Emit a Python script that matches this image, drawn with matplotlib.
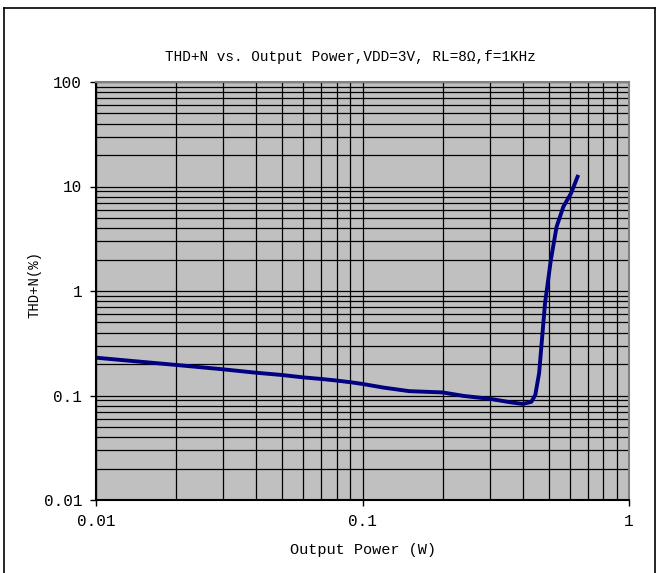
import matplotlib
matplotlib.use("Agg")
import matplotlib.pyplot as plt
from matplotlib.lines import Line2D
from matplotlib.ticker import LogLocator, FixedLocator, FixedFormatter, NullFormatter

# Data
power_w = [0.01, 0.02, 0.03, 0.04, 0.05, 0.06, 0.07, 0.08, 0.09, 0.1, 0.12, 0.15,
           0.2, 0.24, 0.3, 0.36, 0.4, 0.43, 0.445, 0.46, 0.484, 0.509, 0.535,
           0.567, 0.606, 0.645]
thdn_pct = [0.23, 0.196, 0.178, 0.165, 0.157, 0.149, 0.144, 0.139, 0.134, 0.129,
            0.119, 0.110, 0.107, 0.099, 0.093, 0.086, 0.083, 0.087, 0.101, 0.164,
            0.76, 1.98, 4.12, 6.4, 8.6, 12.9]
x_ticks = [0.01, 0.1, 1]
x_tick_labels = ["0.01", "0.1", "1"]
y_ticks = [0.01, 0.1, 1, 10, 100]
y_tick_labels = ["0.01", "0.1", "1", "10", "100"]
title = "THD+N vs. Output Power,VDD=3V, RL=8Ω,f=1KHz"
x_label = "Output Power (W)"
y_label = "THD+N(%)"

plt.rcParams['font.family'] = ['Liberation Mono', 'DejaVu Sans Mono', 'DejaVu Sans']

W, H = 657, 573
fig = plt.figure(figsize=(W / 100, H / 100), dpi=100)
fig.patch.set_facecolor("white")

# outer frame
def fx(px): return px / W
def fy(py): return 1 - py / H
for xs, ys in [([4, 4], [8, 580]), ([4, 655], [8, 8]), ([655, 655], [8, 580])]:
    fig.add_artist(Line2D([fx(v) for v in xs], [fy(v) for v in ys], color="black", lw=1.2))

ax = fig.add_axes([96 / W, (H - 500) / H, 533 / W, 418 / H])
ax.set_facecolor("#C0C0C0")
ax.set_xscale("log")
ax.set_yscale("log")
ax.set_xlim(0.01, 1)
ax.set_ylim(0.01, 100)

ax.xaxis.set_major_locator(FixedLocator(x_ticks))
ax.xaxis.set_major_formatter(FixedFormatter(x_tick_labels))
ax.yaxis.set_major_locator(FixedLocator(y_ticks))
ax.yaxis.set_major_formatter(FixedFormatter(y_tick_labels))
ax.xaxis.set_minor_locator(LogLocator(base=10, subs=range(2, 10)))
ax.yaxis.set_minor_locator(LogLocator(base=10, subs=range(2, 10)))
ax.xaxis.set_minor_formatter(NullFormatter())
ax.yaxis.set_minor_formatter(NullFormatter())

ax.grid(True, which="both", color="black", lw=0.9)
ax.set_axisbelow(True)
ax.tick_params(which="major", direction="out", length=4, width=1, labelsize=11.5, pad=6)
ax.tick_params(which="minor", length=0)

for s in ["left", "bottom"]:
    ax.spines[s].set_color("black")
    ax.spines[s].set_linewidth(1.5)
for s in ["top", "right"]:
    ax.spines[s].set_color("#808080")
    ax.spines[s].set_linewidth(1.5)

ax.plot(power_w, thdn_pct, color="#000080", lw=2.8, solid_capstyle="butt")

fig.text(fx(350), fy(57), title, ha="center", va="center", fontsize=10.4)
fig.text(fx(363), fy(550), x_label, ha="center", va="center", fontsize=11)
fig.text(fx(35), fy(285), y_label, ha="center", va="center", fontsize=10, rotation=90)

fig.savefig("out.png", dpi=100)
